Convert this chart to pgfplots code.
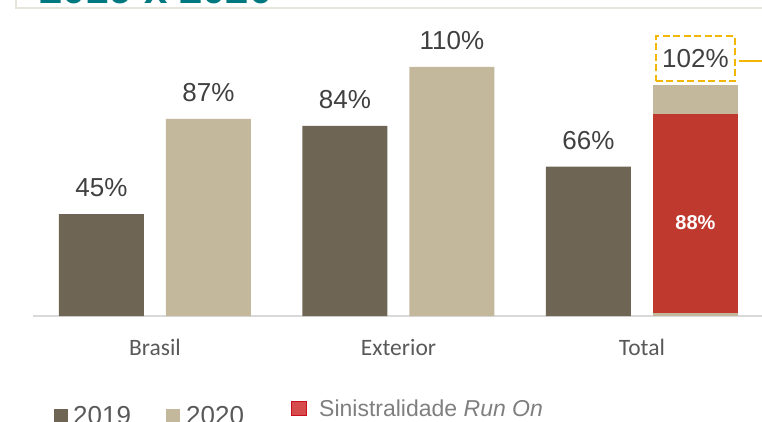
\documentclass[border=0pt]{standalone}
\usepackage{pgfplots}
\pgfplotsset{compat=1.18}
\usepackage{fontspec}
\setmainfont{Liberation Sans}
\newfontfamily\carlito{Carlito}
\definecolor{cA}{HTML}{6E6555}
\definecolor{cB}{HTML}{C4B89C}
\definecolor{cR}{HTML}{C0392F}
\definecolor{lab}{HTML}{404040}
\definecolor{cat}{HTML}{595959}
\definecolor{leg}{HTML}{7F7F7F}
\definecolor{gold}{HTML}{F2B705}
\definecolor{teal}{HTML}{00787F}
\definecolor{frame}{HTML}{E7E4DC}
\definecolor{base}{HTML}{D9D9D9}
\begin{document}
\begin{tikzpicture}[x=1pt,y=1pt]
\useasboundingbox (0,0) rectangle (762,421);
\clip (0,0) rectangle (762,421);
\draw[frame, line width=2.2pt] (16,421) -- (16,413.3) -- (763,413.3);
\node[anchor=base west, inner sep=0pt, font=\bfseries\fontsize{42}{48}\selectfont, text=teal] at (39,417.5) {2019 x 2020};
\begin{axis}[
  ybar,
  at={(33pt,105pt)}, anchor=south west,
  scale only axis, width=729pt, height=308pt,
  xmin=-0.501, xmax=2.493, ymin=0, ymax=136,
  bar width=85pt,
  axis y line=none,
  axis x line=bottom,
  x axis line style={-, draw=base, line width=2pt},
  xtick={0,1,2},
  xticklabels={Brasil,Exterior,Total},
  major tick length=0pt,
  xticklabel style={anchor=base, inner sep=0pt, yshift=-39pt, font=\carlito\fontsize{23.5}{27}\selectfont, text=cat},
  clip=false,
  point meta=explicit symbolic,
  every node near coord/.append style={anchor=base, inner sep=0pt, yshift=17.5pt, font=\fontsize{26}{30}\selectfont, text=lab},
]
\addplot[fill=cA, draw=none, bar shift=-53.5pt, nodes near coords] coordinates {(0,45) [45\%] (1,84) [84\%] (2,66) [66\%]};
\addplot[fill=cB, draw=none, bar shift=53.5pt, nodes near coords] coordinates {(0,87) [87\%] (1,110) [110\%]};
\addplot[fill=cB, draw=none, bar shift=53.5pt, nodes near coords,
  every node near coord/.style={anchor=south, xshift=53.5pt, yshift=3pt, inner sep=0pt, draw=gold, dash pattern=on 7pt off 3.5pt, line width=1.7pt, minimum width=79pt, minimum height=45pt, font=\fontsize{26}{30}\selectfont, text=lab}] coordinates {(2,102) [102\%]};
\addplot[fill=cR, draw=none, bar shift=53.5pt] coordinates {(2,89)};
\addplot[fill=cB, draw=none, bar shift=53.5pt] coordinates {(2,1.5)};
\node[anchor=base, xshift=53.5pt, inner sep=0pt, text=white, font=\bfseries\fontsize{20}{24}\selectfont] at (axis cs:2,38.4) {88\%};
\end{axis}
\draw[gold, line width=1.3pt] (739,360) -- (763,360);
% legend
\fill[cA] (54,-2) rectangle (68,12);
\node[anchor=base west, inner sep=0pt, font=\fontsize{26}{30}\selectfont, text=cat] at (73,-3) {2019};
\fill[cB] (166,-2) rectangle (180,12);
\node[anchor=base west, inner sep=0pt, font=\fontsize{26}{30}\selectfont, text=cat] at (186,-3) {2020};
\filldraw[fill={rgb,255:red,214;green,75;blue,75}, draw={rgb,255:red,200;green,16;blue,30}, line width=1.5pt] (291.5,5.5) rectangle (306.5,19.5);
\node[anchor=base west, inner sep=0pt, font=\fontsize{23}{27}\selectfont, text=leg] at (319,4.3) {Sinistralidade \textit{Run On}};
\end{tikzpicture}
\end{document}
